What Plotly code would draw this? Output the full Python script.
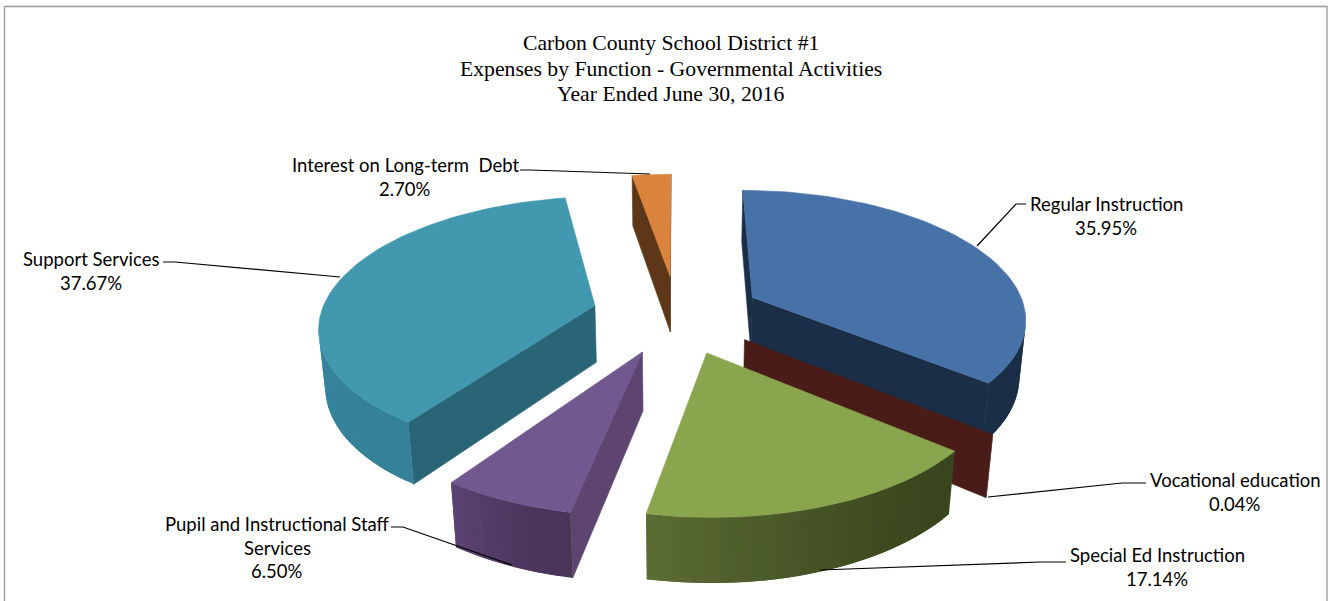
import numpy as np
import plotly.graph_objects as go

# Expense shares by function, in percent, clockwise from twelve o'clock
categories = ["Regular Instruction", "Vocational education", "Special Ed Instruction",
              "Pupil and Instructional Staff|Services", "Support Services",
              "Interest on Long-term  Debt"]
shares = [35.95, 0.04, 17.14, 6.50, 37.67, 2.70]

# Surface colours: top face, radial face, outer wall at the start and end of each arc
top_colors = ["#4672A8", "#4A1C18", "#89A54E", "#71588F", "#4198AF", "#DB843D"]
side_colors = ["#1A2E47", "#4A1C18", "#3A451E", "#5D4570", "#2A6577", "#5E3718"]
wall_start = ["#1A2E47", "#4A1C18", "#39451D", "#4A3458", "#35819A", "#5E3718"]
wall_end = ["#1A2E47", "#4A1C18", "#5B6C33", "#5A4372", "#3F8FA8", "#5E3718"]

# Label placement in canvas pixels: centre x, first-line y, leader polyline
label_x = [1106, 1235, 1157, 277, 91, 405]
label_y = [204, 480, 555, 524, 259, 165]
leader_x = [[1026, 1016, 977], [1146, 1122, 988], [1066, 1040, 820], [391, 403, 512], [163, 175, 340], [520, 530, 650]]
leader_y = [[204, 204, 246], [483, 483, 497], [562, 562, 570], [527, 527, 565], [262, 262, 277], [170, 170, 174]]

title_lines = ["Carbon County School District #1",
               "Expenses by Function - Governmental Activities",
               "Year Ended June 30, 2016"]

# Tilted, exploded pie projected with a simple perspective camera
CX, CY = 677.0, 314.0
SCALE = 274.0
ELEV = np.arcsin(0.465)
DIST = 6.0
EXPLODE = 0.31
THICK = 0.24


def project(x, y, z):
    v = y * np.sin(ELEV) + z * np.cos(ELEV)
    w = y * np.cos(ELEV) - z * np.sin(ELEV)
    s = SCALE * DIST / (DIST + w)
    return CX + x * s, CY - v * s


def signed_area(px, py):
    return 0.5 * np.sum(px * np.roll(py, -1) - np.roll(px, -1) * py)


def hex_mix(a, b, t):
    ca = [int(a[i:i + 2], 16) for i in (1, 3, 5)]
    cb = [int(b[i:i + 2], 16) for i in (1, 3, 5)]
    return "#%02X%02X%02X" % tuple(round(p + (q - p) * t) for p, q in zip(ca, cb))


fig = go.Figure()


def add_face(px, py, color, edge=0.6):
    fig.add_trace(go.Scatter(x=np.append(px, px[0]), y=np.append(py, py[0]), mode="lines",
                             fill="toself", fillcolor=color, line=dict(color=color, width=edge),
                             hoverinfo="skip", showlegend=False))


ends = np.cumsum(shares) / np.sum(shares) * 2 * np.pi
starts = np.concatenate([[0.0], ends[:-1]])
mids = (starts + ends) / 2
order = np.argsort(-np.cos(mids))  # far slices first

for i in order:
    a0, a1 = starts[i], ends[i]
    ox, oy = EXPLODE * np.sin(mids[i]), EXPLODE * np.cos(mids[i])
    n = max(2, int(np.degrees(a1 - a0) / 2) + 1)
    th = np.linspace(a0, a1, n)
    rx, ry = ox + np.sin(th), oy + np.cos(th)

    # radial faces, kept only when they turn towards the camera
    for ang, sign in ((a0, -1), (a1, 1)):
        ex, ey = ox + np.sin(ang), oy + np.cos(ang)
        fx = np.array([ox, ex, ex, ox])
        fy = np.array([oy, ey, ey, oy])
        fz = np.array([0, 0, -THICK, -THICK])
        px, py = project(fx, fy, fz)
        if signed_area(px, py) * sign > 0:
            add_face(px, py, side_colors[i])

    # outer wall: overlapping strips, each one painted over half of the previous,
    # so the shading runs without seams
    for k in range(n - 1):
        k2 = min(k + 2, n - 1)
        qx = np.array([rx[k], rx[k2], rx[k2], rx[k]])
        qy = np.array([ry[k], ry[k2], ry[k2], ry[k]])
        qz = np.array([0, 0, -THICK, -THICK])
        px, py = project(qx, qy, qz)
        if signed_area(px, py) < 0:
            t = (k / max(1, n - 2)) ** 1.5
            add_face(px, py, hex_mix(wall_start[i], wall_end[i], t), edge=0)

    # top face
    px, py = project(np.append(ox, rx), np.append(oy, ry), np.zeros(n + 1))
    add_face(px, py, top_colors[i])

# Leader lines and labels
annotations = []
for i, name in enumerate(categories):
    fig.add_trace(go.Scatter(x=leader_x[i], y=leader_y[i], mode="lines",
                             line=dict(color="#000000", width=1.2),
                             hoverinfo="skip", showlegend=False))
    lines = name.split("|") + [f"{shares[i]:.2f}%"]
    for j, text in enumerate(lines):
        annotations.append(dict(x=label_x[i], y=label_y[i] + j * 23.7, text=text, xref="x", yref="y",
                                showarrow=False, xanchor="center", yanchor="middle",
                                font=dict(family="Lato", size=18.5, color="#000000")))

for j, text in enumerate(title_lines):
    annotations.append(dict(x=670.5, y=43 + j * 25.5, text=text, xref="x", yref="y",
                            showarrow=False, xanchor="center", yanchor="middle",
                            font=dict(family="Liberation Serif", size=21.7, color="#000000")))

fig.update_layout(
    width=1330, height=601, margin=dict(l=0, r=0, t=0, b=0),
    paper_bgcolor="#FFFFFF", plot_bgcolor="#FFFFFF", showlegend=False,
    xaxis=dict(range=[0, 1330], visible=False, fixedrange=True),
    yaxis=dict(range=[601, 0], visible=False, fixedrange=True),
    annotations=annotations,
    shapes=[dict(type="rect", xref="x", yref="y", x0=4.5, y0=6.5, x1=1327, y1=640,
                 line=dict(color="#999999", width=1.3), layer="below")],
)

fig.write_html("out.html", config=dict(displayModeBar=False))
